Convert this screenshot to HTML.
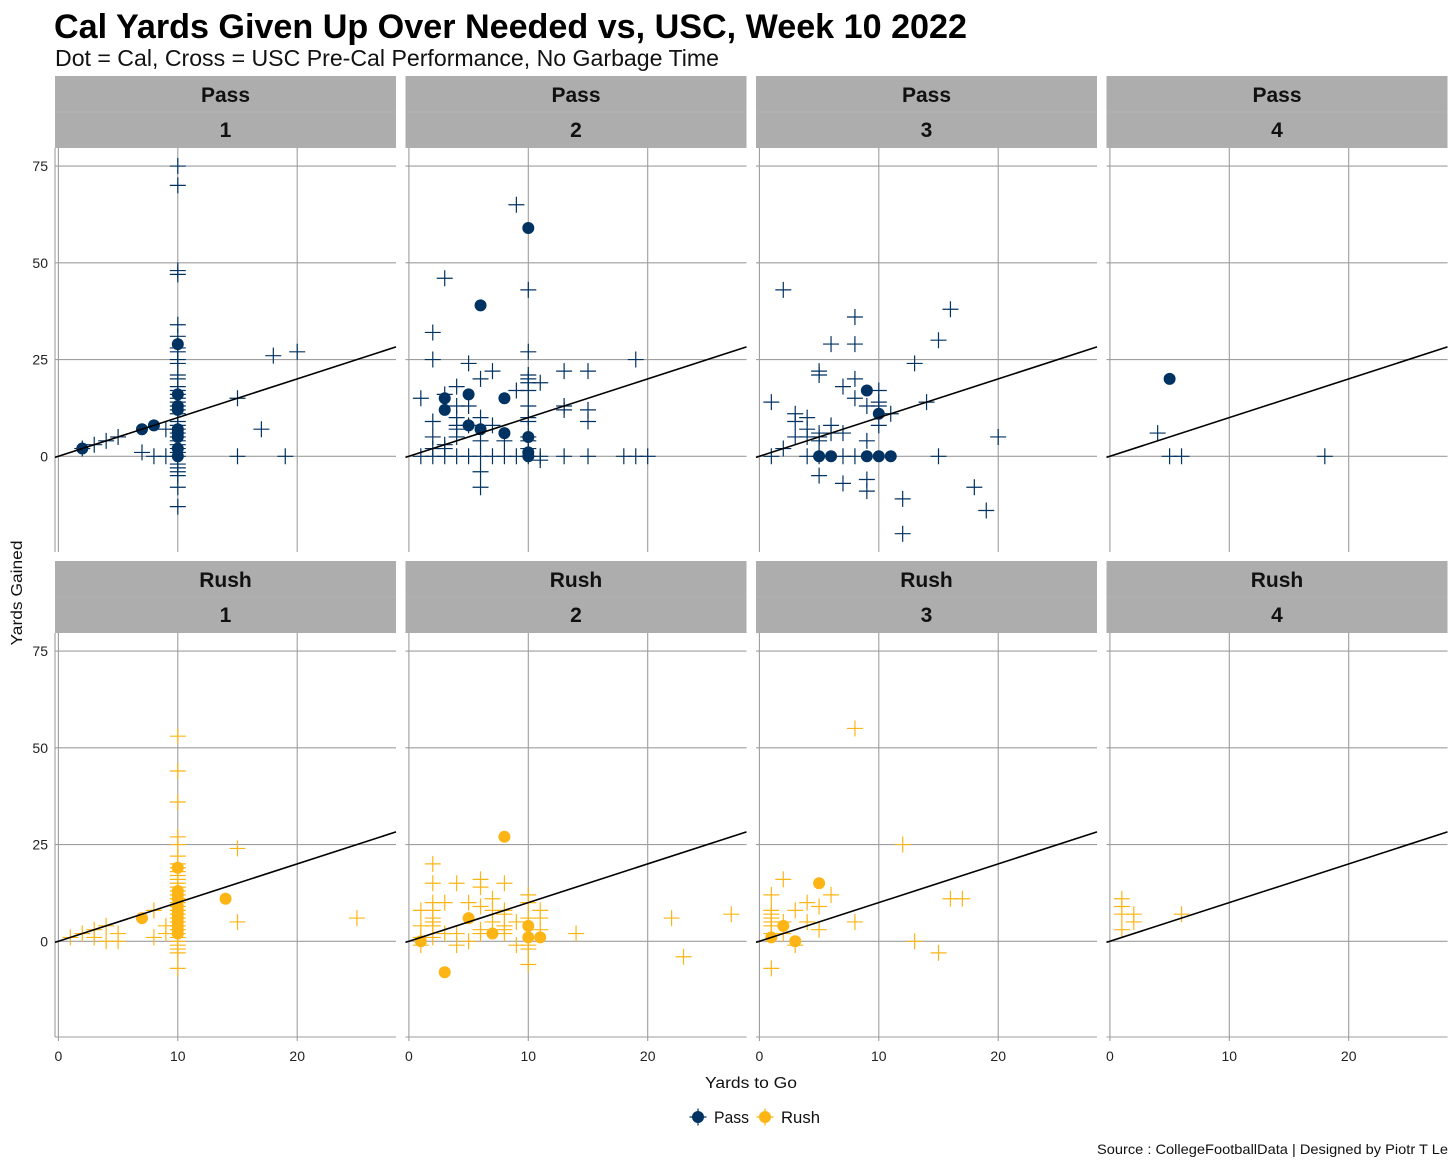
<!DOCTYPE html>
<html lang="en">
<head>
<meta charset="utf-8">
<title>Cal Yards Given Up Over Needed vs, USC, Week 10 2022</title>
<style>
html,body{margin:0;padding:0;background:#fff;}
svg{display:block;font-family:"Liberation Sans",sans-serif;}
</style>
</head>
<body>
<svg id="chart" xmlns="http://www.w3.org/2000/svg" width="1456" height="1165" viewBox="0 0 1456 1165">
  <rect x="0" y="0" width="1456" height="1165" fill="#ffffff"/>
  <text x="54" y="38" font-size="34" font-weight="700" fill="#000" textLength="913" lengthAdjust="spacingAndGlyphs">Cal Yards Given Up Over Needed vs, USC, Week 10 2022</text>
  <text x="55" y="66" font-size="23" fill="#111" textLength="664" lengthAdjust="spacingAndGlyphs">Dot = Cal, Cross = USC Pre-Cal Performance, No Garbage Time</text>
  <g id="panels"></g>
  <text transform="translate(22 593) rotate(-90)" text-anchor="middle" font-size="15.5" fill="#111" textLength="105" lengthAdjust="spacingAndGlyphs">Yards Gained</text>
  <text x="751" y="1088" text-anchor="middle" font-size="15.5" fill="#111" textLength="92" lengthAdjust="spacingAndGlyphs">Yards to Go</text>
  <g>
    <g>
      <line x1="689.5" y1="1117" x2="706.5" y2="1117" stroke="#003262" stroke-width="1.2"/>
      <line x1="698" y1="1108.5" x2="698" y2="1125.5" stroke="#003262" stroke-width="1.2"/>
      <circle cx="698" cy="1117" r="6" fill="#003262"/>
      <text x="714" y="1123" font-size="16.5" fill="#111" textLength="35" lengthAdjust="spacingAndGlyphs">Pass</text>
    </g>
    <g>
      <line x1="756.5" y1="1117" x2="773.5" y2="1117" stroke="#FDB515" stroke-width="1.2"/>
      <line x1="765" y1="1108.5" x2="765" y2="1125.5" stroke="#FDB515" stroke-width="1.2"/>
      <circle cx="765" cy="1117" r="6" fill="#FDB515"/>
      <text x="781" y="1123" font-size="16.5" fill="#111" textLength="39" lengthAdjust="spacingAndGlyphs">Rush</text>
    </g>
  </g>
  <text x="1097" y="1154" font-size="14" fill="#111" textLength="351" lengthAdjust="spacingAndGlyphs">Source : CollegeFootballData | Designed by Piotr T Le</text>
</svg>
<script>
const xTicks = [0, 10, 20];
const yTicks = [75, 50, 25, 0];
const playTypes = ['Pass', 'Rush'];
const downs = [1, 2, 3, 4];

const pass1CrossX = [10,10,10,10,10,10,10,10,10,10,10,10,10,10,10,10,10,10,10,10,10,10,10,10,10,10,10,10,10,10,10,10,10,10,10,10,18,20,15,17,15,19,2,3,4,5,9,7,8,9];
const pass1CrossY = [75,70,48,47,34,31,28,27,25,24,21,20,18,17,16,15,14,13,12,11,9,8,7,6,5,4,3,2,1,0,-2,-3,-4,-5,-8,-13,26,27,15,7,0,0,2,3,4,5,7,1,0,0];
const pass1DotX = [2,7,8,10,10,10,10,10,10,10,10,10];
const pass1DotY = [2,7,8,29,16,13,12,7,6,5,2,0];

const pass2CrossX = [9,3,10,2,2,5,7,10,6,13,15,19,10,10,10,10,11,9,4,1,3,4,5,10,13,13,15,15,2,4,6,7,10,10,4,4,5,2,4,3,3,2,6,8,10,10,10,11,1,2,3,4,5,6,7,8,9,10,11,13,15,18,19,20,6,6];
const pass2CrossY = [65,46,43,32,25,24,22,27,20,22,22,25,21,20,19,17,19,17,18,15,16,13,13,13,13,12,12,9,9,10,10,8,10,9,8,7,8,5,5,3,2,2,4,4,5,4,2,-1,0,0,0,0,0,0,0,0,0,0,0,0,0,0,0,0,-4,-8];
const pass2DotX = [10,6,3,5,8,3,5,6,8,10,10,10];
const pass2DotY = [59,39,15,16,15,12,8,7,6,5,1,0];

const pass3CrossX = [2,8,16,6,8,15,13,5,5,8,7,10,8,9,10,10,14,1,3,3,4,3,4,4,6,6,7,5,5,5,9,10,11,2,20,1,4,7,8,15,5,5,7,9,9,12,12,18,19];
const pass3CrossY = [43,36,38,29,29,30,24,22,21,20,18,17,15,13,14,13,14,14,11,9,10,5,7,5,8,6,6,6,5,4,4,8,11,2,5,0,0,0,0,0,0,-5,-7,-6,-9,-11,-20,-8,-14];
const pass3DotX = [9,10,5,6,9,10,11];
const pass3DotY = [17,11,0,0,0,0,0];

const pass4CrossX = [4,5,6,18];
const pass4CrossY = [6,0,0,0];
const pass4DotX = [5];
const pass4DotY = [20];

const rush1CrossX = [10,10,10,10,10,10,10,10,10,10,10,10,10,10,10,10,10,10,10,10,10,10,10,10,10,10,10,10,10,10,10,15,15,25,8,9,9,8,1,2,3,3,4,4,5,5];
const rush1CrossY = [53,44,36,27,25,22,20,19,18,17,16,15,14,13,12,11,10,9,8,7,6,5,4,3,2,1,0,-1,-2,-3,-7,24,5,6,8,4,2,1,1,2,3,1,4,0,2,0];
const rush1DotX = [7,14,10,10,10,10,10,10,10,10,10,10,10,10];
const rush1DotY = [6,11,19,13,12,11,9,8,7,6,5,4,3,2];

const rush2CrossX = [2,2,4,6,6,8,10,10,2,3,5,7,6,1,2,7,8,8,11,11,10,9,2,2,7,1,2,6,6,4,3,8,8,8,11,1,2,5,4,9,10,10,10,14,22,27,23,1];
const rush2CrossY = [20,15,15,16,14,15,12,10,10,10,10,11,9,8,8,8,8,7,8,6,6,5,6,5,5,4,4,3,2,2,2,4,3,2,3,1,1,0,-1,-1,-1,-2,-6,2,6,7,-4,-1];
const rush2DotX = [8,5,10,7,10,11,1,3];
const rush2DotY = [27,6,4,2,1,1,0,-8];

const rush3CrossX = [8,12,2,1,6,4,5,3,1,1,1,1,1,2,4,5,8,2,1,3,1,16,17,13,15];
const rush3CrossY = [55,25,16,12,12,10,9,8,8,7,6,5,4,5,5,3,5,2,2,-1,-7,11,11,0,-3];
const rush3DotX = [5,2,1,3];
const rush3DotY = [15,4,1,0];

const rush4CrossX = [1,1,1,1,2,2,6];
const rush4CrossY = [11,9,7,3,7,5,7];
const rush4DotX = [];
const rush4DotY = [];

const panelSeries = {
  Pass: [
    [pass1CrossX, pass1CrossY, pass1DotX, pass1DotY],
    [pass2CrossX, pass2CrossY, pass2DotX, pass2DotY],
    [pass3CrossX, pass3CrossY, pass3DotX, pass3DotY],
    [pass4CrossX, pass4CrossY, pass4DotX, pass4DotY]
  ],
  Rush: [
    [rush1CrossX, rush1CrossY, rush1DotX, rush1DotY],
    [rush2CrossX, rush2CrossY, rush2DotX, rush2DotY],
    [rush3CrossX, rush3CrossY, rush3DotX, rush3DotY],
    [rush4CrossX, rush4CrossY, rush4DotX, rush4DotY]
  ]
};

const NS = 'http://www.w3.org/2000/svg';
const colors = { Pass: '#003262', Rush: '#FDB515' };
const root = document.getElementById('panels');
const panelW = 341;
const panelStep = 350.5;
const panelH = 404;
const stripH = 72;
const gridColor = '#9e9e9e';

function panelLeft(col) { return 55 + col * panelStep; }
function panelTop(row) { return 148 + row * 485; }
function xScale(col, v) { return panelLeft(col) + 3.4 + v * 11.94; }
function yScale(row, v) { return panelTop(row) + 308.3 - v * 3.87; }

function make(tag, parent, attrs) {
  const el = document.createElementNS(NS, tag);
  for (const k in attrs) el.setAttribute(k, attrs[k]);
  parent.appendChild(el);
  return el;
}

playTypes.forEach(function (type, row) {
  downs.forEach(function (down, col) {
    const left = panelLeft(col);
    const top = panelTop(row);
    const right = left + panelW;
    const bottom = top + panelH;
    const g = make('g', root, {});
    
    

    const strip = make('rect', g, { x: left, y: top - stripH, width: panelW, height: stripH, fill: '#adadad' });
    
    
    const divider = make('line', g, { x1: left, x2: right, y1: top - stripH / 2, y2: top - stripH / 2, stroke: '#b2b2b2', 'stroke-width': 1 });
    
    
    const typeLabel = make('text', g, { x: left + panelW / 2, y: top - 46, 'text-anchor': 'middle', 'font-size': 21, 'font-weight': 700, fill: '#111' });
    typeLabel.textContent = type;
    
    
    const downLabel = make('text', g, { x: left + panelW / 2, y: top - 11, 'text-anchor': 'middle', 'font-size': 21, 'font-weight': 700, fill: '#111' });
    downLabel.textContent = String(down);
    
    

    yTicks.forEach(function (t) {
      const y = yScale(row, t);
      const gl = make('line', g, { x1: left, x2: right, y1: y, y2: y, stroke: gridColor, 'stroke-width': 1.1 });
      
      
      if (col === 0) {
        const lab = make('text', g, { x: 48, y: y + 5, 'text-anchor': 'end', 'font-size': 14, fill: '#222' });
        lab.textContent = String(t);
        
        
      }
    });

    xTicks.forEach(function (t) {
      const x = xScale(col, t);
      const endY = row === 1 ? bottom + 4 : bottom;
      const gl = make('line', g, { x1: x, x2: x, y1: top, y2: endY, stroke: gridColor, 'stroke-width': 1.1 });
      
      
      if (row === 1) {
        const lab = make('text', g, { x: x, y: bottom + 24, 'text-anchor': 'middle', 'font-size': 14, fill: '#222' });
        lab.textContent = String(t);
        
        
      }
    });

    if (col === 0) {
      const ax = make('line', g, { x1: left, x2: left, y1: top, y2: bottom, stroke: gridColor, 'stroke-width': 1.1 });
      
      
    }
    if (row === 1) {
      const ax = make('line', g, { x1: left, x2: right, y1: bottom, y2: bottom, stroke: gridColor, 'stroke-width': 1.1 });
      
      
    }

    const series = panelSeries[type][col];
    const color = colors[type];
    series[0].forEach(function (xv, i) {
      const px = xScale(col, xv);
      const py = yScale(row, series[1][i]);
      const cross = make('path', g, { d: 'M' + (px - 8) + ' ' + py + 'H' + (px + 8) + 'M' + px + ' ' + (py - 8) + 'V' + (py + 8), stroke: color, 'stroke-width': 1.2, fill: 'none' });
      
      
    });
    series[2].forEach(function (xv, i) {
      const dot = make('circle', g, { cx: xScale(col, xv), cy: yScale(row, series[3][i]), r: 6, fill: color });
      
      
    });

    const xMin = (left - xScale(col, 0)) / 11.94;
    const xMax = (right - xScale(col, 0)) / 11.94;
    const ref = make('line', g, { x1: left, y1: yScale(row, xMin), x2: right, y2: yScale(row, xMax), stroke: '#000', 'stroke-width': 1.6 });
    
    
  });
});
</script>
</body>
</html>
